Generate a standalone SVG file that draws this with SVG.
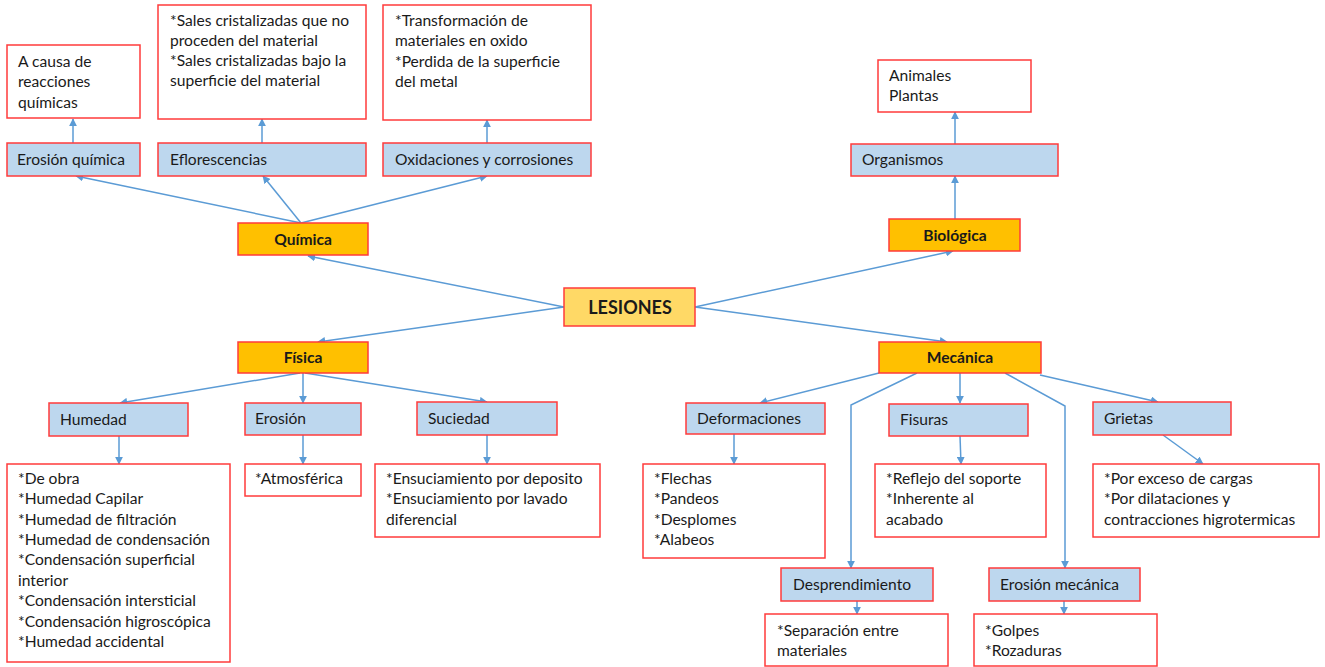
<svg xmlns="http://www.w3.org/2000/svg" width="1325" height="667" viewBox="0 0 1325 667">
<style>
.w{fill:#ffffff;stroke:#ff3b3b;stroke-width:1.5}
.b{fill:#bdd7ee;stroke:#ff3b3b;stroke-width:1.5}
.o{fill:#ffc000;stroke:#ff3b3b;stroke-width:1.5}
.y{fill:#ffd966;stroke:#ff3b3b;stroke-width:1.5}
text{font-family:Lato,"Liberation Sans",sans-serif;font-size:15.6px;fill:#1a1a1a}
.bd{font-weight:bold;text-anchor:middle;font-size:15.6px}
.lg{font-size:18px}
.c line,.c polyline{stroke:#5b9bd5;stroke-width:1.5;fill:none;marker-end:url(#ah)}
</style>
<defs>
<marker id="ah" viewBox="0 0 10 10" refX="9" refY="5" markerWidth="8" markerHeight="8" markerUnits="userSpaceOnUse" orient="auto">
<path d="M0,0 L10,5 L0,10 z" fill="#5b9bd5"/>
</marker>
</defs>
<rect width="1325" height="667" fill="#ffffff"/>
<g class="c" id="connectors">
<line x1="564" y1="307" x2="308" y2="256"/>
<line x1="564" y1="307" x2="318" y2="342"/>
<line x1="695" y1="307" x2="953" y2="251"/>
<line x1="695" y1="307" x2="947" y2="342"/>
<line x1="301" y1="223" x2="76" y2="176"/>
<line x1="301" y1="223" x2="263" y2="176"/>
<line x1="301" y1="223" x2="487" y2="176"/>
<line x1="73" y1="143" x2="73" y2="119"/>
<line x1="262" y1="143" x2="262" y2="119"/>
<line x1="487" y1="143" x2="487" y2="120"/>
<line x1="955" y1="219" x2="955" y2="176"/>
<line x1="955" y1="144" x2="955" y2="112"/>
<line x1="300" y1="373" x2="120" y2="403"/>
<line x1="303" y1="373" x2="303" y2="403"/>
<line x1="305" y1="373" x2="487" y2="402"/>
<line x1="119" y1="436" x2="119" y2="464"/>
<line x1="303" y1="435" x2="303" y2="464"/>
<line x1="487" y1="435" x2="487" y2="464"/>
<line x1="879" y1="373" x2="760" y2="403"/>
<polyline points="917,373 851,405 851,568"/>
<line x1="960" y1="373" x2="960" y2="403"/>
<polyline points="1005,373 1065,406 1065,568"/>
<line x1="1040" y1="375" x2="1158" y2="402"/>
<line x1="734" y1="434" x2="734" y2="464"/>
<line x1="960" y1="436" x2="961" y2="464"/>
<line x1="1163" y1="435" x2="1203" y2="464"/>
<line x1="857" y1="601" x2="857" y2="614"/>
<line x1="1064" y1="601" x2="1064" y2="614"/>
</g>
<g id="lesiones"><rect class="y" x="564" y="288" width="131" height="38"/><text class="bd lg" x="630" y="314">LESIONES</text></g>
<g id="quimica"><rect class="o" x="238" y="223" width="130" height="32"/><text class="bd" x="303" y="245">Química</text></g>
<g id="biologica"><rect class="o" x="889" y="219" width="131" height="32"/><text class="bd" x="955" y="241">Biológica</text></g>
<g id="fisica"><rect class="o" x="238" y="342" width="130" height="31"/><text class="bd" x="303" y="363">Física</text></g>
<g id="mecanica"><rect class="o" x="879" y="342" width="162" height="31"/><text class="bd" x="960" y="363">Mecánica</text></g>
<g id="erosion-quimica"><rect class="b" x="7" y="143" width="133" height="33"/><text x="17" y="165">Erosión química</text></g>
<g id="erosion-quimica-det"><rect class="w" x="7" y="45" width="133" height="73"/><text x="18" y="67">A causa de</text><text x="18" y="87">reacciones</text><text x="18" y="108">químicas</text></g>
<g id="eflorescencias"><rect class="b" x="158" y="143" width="208" height="33"/><text x="170" y="165">Eflorescencias</text></g>
<g id="eflorescencias-det"><rect class="w" x="158" y="5" width="208" height="114"/><text x="170" y="26">*Sales cristalizadas que no</text><text x="170" y="46">proceden del material</text><text x="170" y="66">*Sales cristalizadas bajo la</text><text x="170" y="86">superficie del material</text></g>
<g id="oxidaciones"><rect class="b" x="383" y="143" width="208" height="33"/><text x="395" y="165">Oxidaciones y corrosiones</text></g>
<g id="oxidaciones-det"><rect class="w" x="383" y="5" width="208" height="115"/><text x="395" y="26">*Transformación de</text><text x="395" y="46">materiales en oxido</text><text x="395" y="67">*Perdida de la superficie</text><text x="395" y="87">del metal</text></g>
<g id="organismos"><rect class="b" x="851" y="144" width="207" height="32"/><text x="862" y="165">Organismos</text></g>
<g id="organismos-det"><rect class="w" x="878" y="60" width="153" height="52"/><text x="889" y="81">Animales</text><text x="889" y="101">Plantas</text></g>
<g id="humedad"><rect class="b" x="49" y="403" width="139" height="33"/><text x="60" y="425">Humedad</text></g>
<g id="humedad-det"><rect class="w" x="7" y="464" width="223" height="198"/><text x="18" y="484">*De obra</text><text x="18" y="504">*Humedad Capilar</text><text x="18" y="525">*Humedad de filtración</text><text x="18" y="545">*Humedad de condensación</text><text x="18" y="565">*Condensación superficial</text><text x="18" y="586">interior</text><text x="18" y="606">*Condensación intersticial</text><text x="18" y="627">*Condensación higroscópica</text><text x="18" y="647">*Humedad accidental</text></g>
<g id="erosion"><rect class="b" x="245" y="403" width="116" height="32"/><text x="255" y="424">Erosión</text></g>
<g id="erosion-det"><rect class="w" x="245" y="464" width="116" height="32"/><text x="255" y="484">*Atmosférica</text></g>
<g id="suciedad"><rect class="b" x="417" y="402" width="140" height="33"/><text x="428" y="424">Suciedad</text></g>
<g id="suciedad-det"><rect class="w" x="375" y="464" width="225" height="73"/><text x="386" y="484">*Ensuciamiento por deposito</text><text x="386" y="504">*Ensuciamiento por lavado</text><text x="386" y="525">diferencial</text></g>
<g id="deformaciones"><rect class="b" x="686" y="403" width="139" height="31"/><text x="697" y="424">Deformaciones</text></g>
<g id="deformaciones-det"><rect class="w" x="643" y="464" width="182" height="94"/><text x="654" y="484">*Flechas</text><text x="654" y="504">*Pandeos</text><text x="654" y="525">*Desplomes</text><text x="654" y="545">*Alabeos</text></g>
<g id="fisuras"><rect class="b" x="889" y="404" width="139" height="32"/><text x="900" y="425">Fisuras</text></g>
<g id="fisuras-det"><rect class="w" x="875" y="464" width="171" height="73"/><text x="886" y="484">*Reflejo del soporte</text><text x="886" y="504">*Inherente al</text><text x="886" y="525">acabado</text></g>
<g id="grietas"><rect class="b" x="1093" y="402" width="138" height="33"/><text x="1104" y="424">Grietas</text></g>
<g id="grietas-det"><rect class="w" x="1093" y="464" width="226" height="73"/><text x="1104" y="484">*Por exceso de cargas</text><text x="1104" y="504">*Por dilataciones y</text><text x="1104" y="525">contracciones higrotermicas</text></g>
<g id="desprendimiento"><rect class="b" x="781" y="568" width="152" height="33"/><text x="793" y="590">Desprendimiento</text></g>
<g id="desprendimiento-det"><rect class="w" x="765" y="614" width="183" height="52"/><text x="777" y="636">*Separación entre</text><text x="777" y="656">materiales</text></g>
<g id="erosion-mecanica"><rect class="b" x="989" y="568" width="151" height="33"/><text x="1000" y="590">Erosión mecánica</text></g>
<g id="erosion-mecanica-det"><rect class="w" x="974" y="614" width="183" height="52"/><text x="985" y="636">*Golpes</text><text x="985" y="656">*Rozaduras</text></g>
</svg>
